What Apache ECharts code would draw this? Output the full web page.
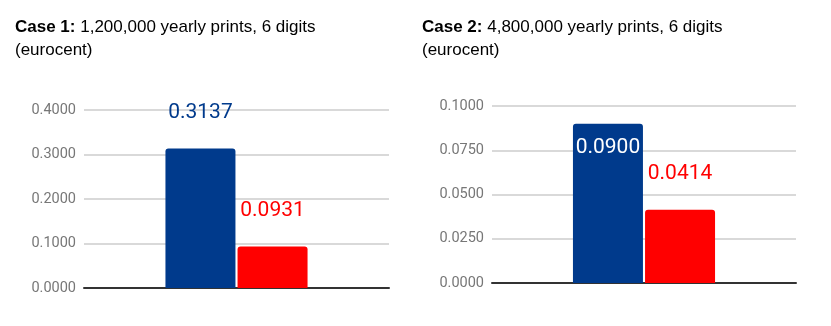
<!DOCTYPE html>
<html>
<head>
<meta charset="utf-8">
<script src="https://cdn.jsdelivr.net/npm/echarts@6/dist/echarts.min.js"></script>
<style>
html,body{margin:0;padding:0;background:#fff;}
#c{width:831px;height:326px;}
</style>
</head>
<body>
<div id="c"></div>
<script>
var categories = [''];
var case1Blue = [0.3137];
var case1Red = [0.0931];
var case2Blue = [0.0900];
var case2Red = [0.0414];
var case1Ticks = { min: 0, max: 0.4, interval: 0.1 };
var case2Ticks = { min: 0, max: 0.1, interval: 0.025 };
var titles = [
  { bold: 'Case 1:', rest: ' 1,200,000 yearly prints, 6 digits', line2: '(eurocent)' },
  { bold: 'Case 2:', rest: ' 4,800,000 yearly prints, 6 digits', line2: '(eurocent)' }
];

var BLUE = '#003a8c', RED = '#ff0000';
var chart = echarts.init(document.getElementById('c'), null, { renderer: 'canvas' });

function titleOpt(t, left, top) {
  return {
    left: left, top: top,
    text: '{b|' + t.bold + '}{n|' + t.rest + '}\n{n|' + t.line2 + '}',
    textStyle: {
      fontWeight: 'normal',
      rich: {
        b: { fontFamily: 'Liberation Sans', fontSize: 17, fontWeight: 'bold', color: '#000', lineHeight: 23 },
        n: { fontFamily: 'Liberation Sans', fontSize: 17, fontWeight: 'normal', color: '#000', lineHeight: 23 }
      }
    }
  };
}

function yAxisOpt(idx, ticks) {
  return {
    type: 'value', gridIndex: idx,
    min: ticks.min, max: ticks.max, interval: ticks.interval,
    axisLine: { show: false }, axisTick: { show: false },
    axisLabel: {
      color: '#777', fontFamily: 'Roboto', fontSize: 14.5, margin: 8,
      formatter: function (v) { return v.toFixed(4); }
    },
    splitLine: { lineStyle: { color: '#cccccc', width: 1.5 } }
  };
}

function xAxisOpt(idx) {
  return {
    type: 'category', gridIndex: idx, data: categories,
    axisLine: { lineStyle: { color: '#333', width: 2 } },
    axisTick: { show: false }, axisLabel: { show: false }
  };
}

function barSeries(idx, data, color, labelColor, pos, dist) {
  return {
    type: 'bar', xAxisIndex: idx, yAxisIndex: idx, data: data,
    barWidth: 70, barGap: '3%',
    itemStyle: { color: color, borderRadius: [3, 3, 0, 0] },
    label: {
      show: true, position: pos, distance: dist,
      color: labelColor, fontFamily: 'Roboto', fontSize: 21,
      formatter: function (p) { return p.value.toFixed(4); }
    }
  };
}

chart.setOption({
  animation: false,
  backgroundColor: '#fff',
  title: [titleOpt(titles[0], 10, 11), titleOpt(titles[1], 417, 11)],
  grid: [
    { left: 84, right: 442, top: 110, bottom: 38 },
    { left: 492, right: 35, top: 106, bottom: 43 }
  ],
  xAxis: [xAxisOpt(0), xAxisOpt(1)],
  yAxis: [yAxisOpt(0, case1Ticks), yAxisOpt(1, case2Ticks)],
  series: [
    barSeries(0, case1Blue, BLUE, BLUE, 'top', 25),
    barSeries(0, case1Red, RED, RED, 'top', 25),
    barSeries(1, case2Blue, BLUE, '#ffffff', 'insideTop', 14),
    barSeries(1, case2Red, RED, RED, 'top', 25)
  ]
});
</script>
</body>
</html>
